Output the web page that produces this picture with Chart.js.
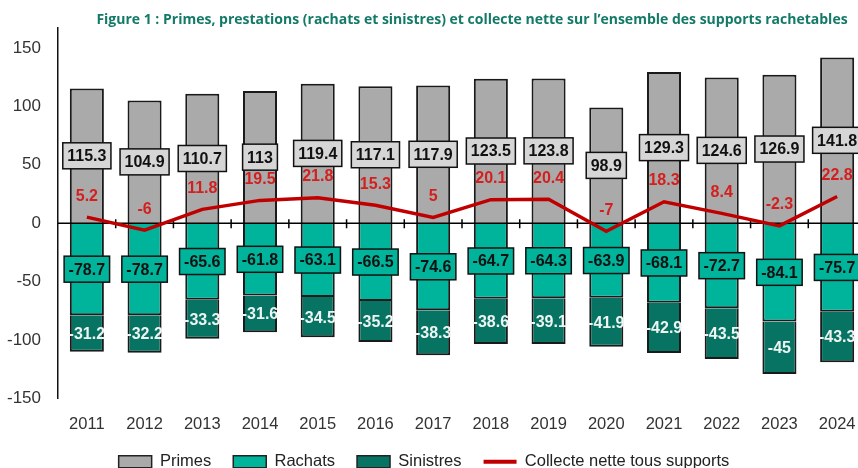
<!DOCTYPE html>
<html>
<head>
<meta charset="utf-8">
<script src="https://cdn.jsdelivr.net/npm/chart.js@4"></script>
<style>
  html, body { margin: 0; padding: 0; background: #fff; overflow: hidden; }
  #wrap { width: 880px; height: 480px; }
</style>
</head>
<body>
<div id="wrap"><canvas id="fluxChart" width="880" height="480"></canvas></div>
<script>
// Data
const years = ["2011", "2012", "2013", "2014", "2015", "2016", "2017", "2018", "2019", "2020", "2021", "2022", "2023", "2024"];
const primes = [115.3, 104.9, 110.7, 113, 119.4, 117.1, 117.9, 123.5, 123.8, 98.9, 129.3, 124.6, 126.9, 141.8];
const rachats = [-78.7, -78.7, -65.6, -61.8, -63.1, -66.5, -74.6, -64.7, -64.3, -63.9, -68.1, -72.7, -84.1, -75.7];
const sinistres = [-31.2, -32.2, -33.3, -31.6, -34.5, -35.2, -38.3, -38.6, -39.1, -41.9, -42.9, -43.5, -45, -43.3];
const collecte = [5.2, -6, 11.8, 19.5, 21.8, 15.3, 5, 20.1, 20.4, -7, 18.3, 8.4, -2.3, 22.8];
const yTicks = [-150, -100, -50, 0, 50, 100, 150];
const legendOrder = ["Primes", "Rachats", "Sinistres", "Collecte nette tous supports"];

const titleText = "Figure 1 : Primes, prestations (rachats et sinistres) et collecte nette sur l\u2019ensemble des supports rachetables";
const FONT = '"Liberation Sans", Arial, sans-serif';

// Title drawn at its own spot (it is not centred on the canvas in the original)
const titlePlugin = {
  id: "figTitle",
  afterDraw(chart) {
    const ctx = chart.ctx;
    ctx.save();
    ctx.font = 'bold 14px "Open Sans", sans-serif';
    ctx.fillStyle = "#137a68";
    ctx.textAlign = "center";
    ctx.textBaseline = "middle";
    ctx.fillText(titleText, 472, 20);
    ctx.restore();
  }
};

// legend sits a little left of the canvas centre
const legendShift = {
  id: "legendShift",
  afterLayout(chart) {
    chart.legend.left -= 9;
    chart.legend.right -= 9;
  }
};

// Zero line with tick marks between categories, under the red line
const zeroAxisPlugin = {
  id: "zeroAxis",
  beforeDatasetDraw(chart, args) {
    if (args.meta.type !== "line") return;
    const ctx = chart.ctx;
    const x = chart.scales.x, y = chart.scales.y;
    const y0 = y.getPixelForValue(0);
    ctx.save();
    ctx.strokeStyle = "#000";
    ctx.lineWidth = 1.5;
    ctx.beginPath();
    ctx.moveTo(chart.chartArea.left, y0);
    ctx.lineTo(chart.chartArea.right, y0);
    for (let i = 1; i < years.length; i++) {
      const xb = (x.getPixelForValue(i - 1) + x.getPixelForValue(i)) / 2;
      ctx.moveTo(xb, y0 - 4);
      ctx.lineTo(xb, y0 + 5);
    }
    ctx.stroke();
    ctx.restore();
  }
};

// Value labels
const labelPlugin = {
  id: "valueLabels",
  afterDatasetsDraw(chart) {
    const ctx = chart.ctx;
    ctx.save();
    ctx.font = "bold 16px " + FONT;
    ctx.textAlign = "center";
    ctx.textBaseline = "middle";
    chart.data.datasets.forEach((ds, i) => {
      const meta = chart.getDatasetMeta(i);
      meta.data.forEach((el, j) => {
        const txt = String(ds.data[j]);
        if (ds.type === "line") {
          ctx.fillStyle = "#d41f1f";
          ctx.fillText(txt, el.x, el.y - 21);
          return;
        }
        const p = el.getProps(["x", "y", "base"], true);
        const cy = (p.y + p.base) / 2;
        const lab = ds.labelStyle;
        if (lab.box) {
          const w = ctx.measureText(txt).width + 9;
          const h = 26;
          ctx.fillStyle = lab.box;
          ctx.fillRect(p.x - w / 2, cy - h / 2, w, h);
          ctx.strokeStyle = "#111";
          ctx.lineWidth = 1.5;
          ctx.strokeRect(p.x - w / 2, cy - h / 2, w, h);
        }
        ctx.fillStyle = lab.color;
        ctx.fillText(txt, p.x, cy + 1);
      });
    });
    ctx.restore();
  }
};

new Chart(document.getElementById("fluxChart"), {
  type: "bar",
  data: {
    labels: years,
    datasets: [
      {
        type: "line",
        label: "Collecte nette tous supports",
        data: collecte,
        borderColor: "#c00000",
        backgroundColor: "#c00000",
        borderWidth: 3.5,
        pointRadius: 0,
        tension: 0,
        order: 0,
        pointStyle: "line"
      },
      {
        label: "Primes",
        data: primes,
        backgroundColor: "#aaaaaa",
        borderColor: "#1a1a1a",
        borderWidth: 2,
        order: 1,
        pointStyle: "rect",
        labelStyle: { box: "#d6d6d6", color: "#111" }
      },
      {
        label: "Rachats",
        data: rachats,
        backgroundColor: "#00b39b",
        borderColor: "#1a1a1a",
        borderWidth: 2,
        order: 1,
        pointStyle: "rect",
        labelStyle: { box: "#00b39b", color: "#111" }
      },
      {
        label: "Sinistres",
        data: sinistres,
        backgroundColor: "#077463",
        borderColor: "#1a1a1a",
        borderWidth: 2,
        order: 1,
        pointStyle: "rect",
        labelStyle: { box: null, color: "#eef4f2" }
      }
    ]
  },
  options: {
    responsive: false,
    animation: false,
    devicePixelRatio: 1,
    datasets: { bar: { barPercentage: 0.59, categoryPercentage: 1 } },
    layout: { padding: { top: 28, right: 14, left: 0, bottom: 0 } },
    scales: {
      x: {
        stacked: true,
        grid: { display: false, drawTicks: false },
        border: { display: false },
        ticks: { font: { family: FONT, size: 16.5 }, color: "#333", padding: 16 },
        afterFit(scale) { scale.height = 33; }
      },
      y: {
        stacked: true,
        min: -150,
        max: 167,
        grid: { display: false, drawTicks: false },
        border: { display: true, color: "#111", width: 1.5 },
        ticks: { font: { family: FONT, size: 17 }, color: "#333", padding: 17, autoSkip: false },
        afterBuildTicks(scale) { scale.ticks = yTicks.map(v => ({ value: v })); },
        afterFit(scale) { scale.width = 58; }
      }
    },
    plugins: {
      title: { display: false },
      tooltip: { enabled: false },
      legend: {
        position: "bottom",
        labels: {
          usePointStyle: true,
          pointStyleWidth: 33,
          boxHeight: 12,
          padding: 22,
          color: "#222",
          font: { family: FONT, size: 16.5 },
          sort: (a, b) => legendOrder.indexOf(a.text) - legendOrder.indexOf(b.text),
          generateLabels(chart) {
            const items = Chart.defaults.plugins.legend.labels.generateLabels(chart);
            items.forEach(it => {
              const ds = chart.data.datasets[it.datasetIndex];
              if (ds.type === "line") {
                it.lineWidth = 4;
                it.strokeStyle = "#c00000";
              } else {
                it.lineWidth = 1.5;
                it.strokeStyle = "#222";
              }
            });
            return items;
          }
        }
      }
    }
  },
  plugins: [titlePlugin, legendShift, zeroAxisPlugin, labelPlugin]
});
</script>
</body>
</html>
